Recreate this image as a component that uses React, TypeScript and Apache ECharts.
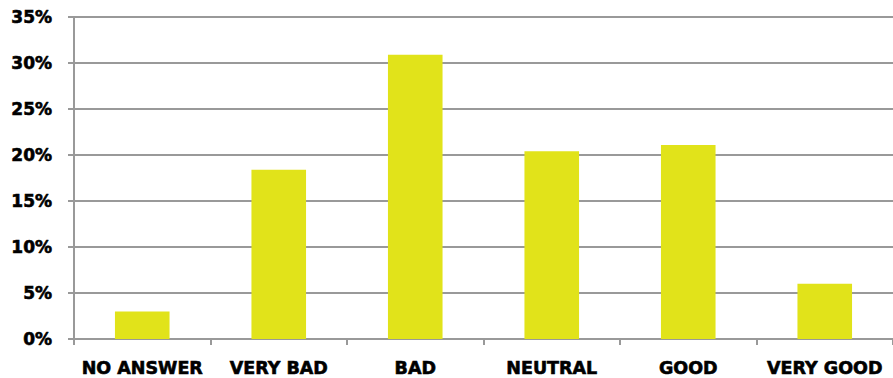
import React, { useEffect, useRef } from "react";
import * as echarts from "echarts";

const categories = ["NO ANSWER", "VERY BAD", "BAD", "NEUTRAL", "GOOD", "VERY GOOD"];
const values = [3.0, 18.4, 30.9, 20.4, 21.1, 6.0];
const yTicks = [0, 5, 10, 15, 20, 25, 30, 35];

export default function App() {
  const ref = useRef<HTMLDivElement>(null);
  useEffect(() => {
    if (!ref.current) return;
    const chart = echarts.init(ref.current, null, { renderer: "svg" });
    const font = "'DejaVu Sans', sans-serif";
    chart.setOption({
      animation: false,
      backgroundColor: "#ffffff",
      grid: { left: 74, right: 0, top: 17, bottom: 39, containLabel: false },
      xAxis: {
        type: "category",
        data: categories,
        axisLine: { show: true, lineStyle: { color: "#999999", width: 2 } },
        axisTick: { show: true, length: 6, lineStyle: { color: "#999999", width: 2 } },
        axisLabel: {
          color: "#000000",
          fontFamily: font,
          fontWeight: "bold",
          fontSize: 17.5,
          margin: 20,
          interval: 0,
          textBorderColor: "#000000",
          textBorderWidth: 0.6,
        },
        splitLine: { show: false },
      },
      yAxis: {
        type: "value",
        min: yTicks[0],
        max: yTicks[yTicks.length - 1],
        interval: 5,
        axisLine: { show: true, lineStyle: { color: "#999999", width: 2 } },
        axisTick: { show: true, length: 6, lineStyle: { color: "#999999", width: 2 } },
        splitLine: { show: true, lineStyle: { color: "#999999", width: 2 } },
        axisLabel: {
          color: "#000000",
          fontFamily: font,
          fontWeight: "bold",
          fontSize: 17,
          margin: 22,
          textBorderColor: "#000000",
          textBorderWidth: 0.6,
          formatter: (v: number) => `${v}%`,
        },
      },
      series: [
        {
          type: "bar",
          data: values,
          barWidth: "40%",
          itemStyle: { color: "#E1E31A" },
        },
      ],
    });
    return () => chart.dispose();
  }, []);
  return <div ref={ref} style={{ width: 893, height: 378, position: "absolute", left: 0, top: 0 }} />;
}
